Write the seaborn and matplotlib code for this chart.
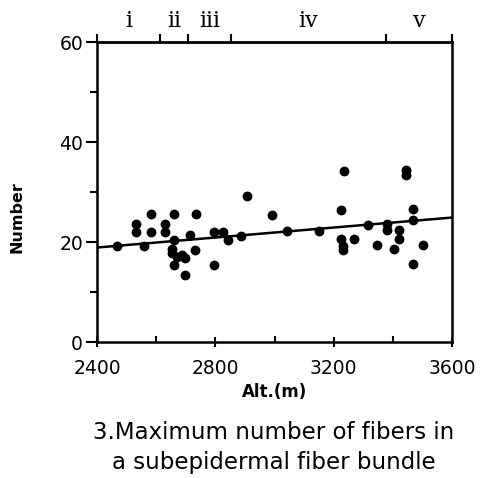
import matplotlib
matplotlib.use("Agg")
import matplotlib.pyplot as plt
import seaborn as sns
import pandas as pd
import numpy as np

# ---- data ----
altitude = [2467, 2532, 2532, 2581, 2581, 2560, 2631, 2631, 2660, 2734,
            2660, 2652, 2652, 2669, 2660, 2686, 2697, 2697, 2714, 2731,
            2796, 2825, 2844, 2796, 2887, 2908, 2992, 3043, 3151, 3235,
            3224, 3224, 3230, 3230, 3269, 3317, 3345, 3381, 3381, 3419,
            3419, 3404, 3445, 3445, 3469, 3469, 3469, 3503]
number = [19.2, 23.6, 22.0, 25.6, 22.0, 19.2, 23.6, 22.0, 25.6, 25.6,
          20.4, 18.7, 17.8, 17.0, 15.4, 17.4, 16.8, 13.4, 21.4, 18.4,
          22.0, 22.0, 20.5, 15.4, 21.3, 29.3, 25.5, 22.2, 22.3, 34.3,
          26.4, 20.6, 19.2, 18.4, 20.6, 23.5, 19.4, 23.7, 22.4, 22.4,
          20.6, 18.6, 34.5, 33.5, 26.6, 24.4, 15.6, 19.4]
fit_x = [2400, 3600]
fit_y = [18.9, 24.9]

zone_bounds = [2400, 2613, 2708, 2854, 3376, 3600]
zone_labels = ["i", "ii", "iii", "iv", "v"]

x_ticks = [2400, 2800, 3200, 3600]
y_ticks = [0, 20, 40, 60]

df = pd.DataFrame({"alt": altitude, "num": number})
fit = pd.DataFrame({"alt": fit_x, "num": fit_y})

sns.set_theme(style="white")
plt.rcParams["font.family"] = ["DejaVu Sans"]
plt.rcParams.update({"text.color": "black", "axes.labelcolor": "black",
                     "xtick.color": "black", "ytick.color": "black"})

fig = plt.figure(figsize=(4.8, 4.78), dpi=100)
ax = fig.add_axes([0.202, 0.2845, 0.74, 0.6275])

sns.lineplot(data=fit, x="alt", y="num", ax=ax, color="black", linewidth=1.8)
sns.scatterplot(data=df, x="alt", y="num", ax=ax, color="black", s=50,
                edgecolor="black", linewidth=0, zorder=3)

ax.set_xlim(2400, 3600)
ax.set_ylim(0, 60)
ax.set_xticks(x_ticks)
ax.set_xticks([2600, 3000, 3400], minor=True)
ax.set_yticks(y_ticks)
ax.set_yticks([10, 30, 50], minor=True)
ax.set_xticklabels([str(v) for v in x_ticks], fontsize=13.5)
ax.set_yticklabels([str(v) for v in y_ticks], fontsize=13.5)
ax.tick_params(axis="x", which="major", direction="inout", length=7, width=1.5,
               pad=9, bottom=True)
ax.tick_params(axis="x", which="minor", direction="in", length=4, width=1.5,
               bottom=True)
ax.tick_params(axis="y", which="major", direction="out", length=8, width=1.5,
               pad=2, left=True)
ax.tick_params(axis="y", which="minor", direction="out", length=5, width=1.5,
               left=True)
ax.set_xlabel("Alt.(m)", fontsize=12, fontweight="bold", labelpad=3)
ax.set_ylabel("Number", fontsize=11.5, fontweight="bold")
ax.yaxis.set_label_coords(-0.205, 0.415)
for side in ["left", "bottom", "right", "top"]:
    ax.spines[side].set_visible(True)
    ax.spines[side].set_color("black")
    ax.spines[side].set_linewidth(1.8)

# top zone axis
top = ax.secondary_xaxis("top")
top.set_xticks(zone_bounds)
top.set_xticklabels([])
top.tick_params(axis="x", direction="out", length=6, width=1.5, color="black")
top.spines["top"].set_linewidth(1.8)
for i, lab in enumerate(zone_labels):
    mid = (zone_bounds[i] + zone_bounds[i + 1]) / 2
    ax.text(mid, 1.035, lab, transform=ax.get_xaxis_transform(),
            ha="center", va="bottom", fontsize=16, family="DejaVu Serif")

fig.text(0.571, 0.096, "3.Maximum number of fibers in", ha="center",
         va="center", fontsize=16.5)
fig.text(0.571, 0.033, "a subepidermal fiber bundle", ha="center",
         va="center", fontsize=16.5)

fig.savefig("out.png", dpi=100)
